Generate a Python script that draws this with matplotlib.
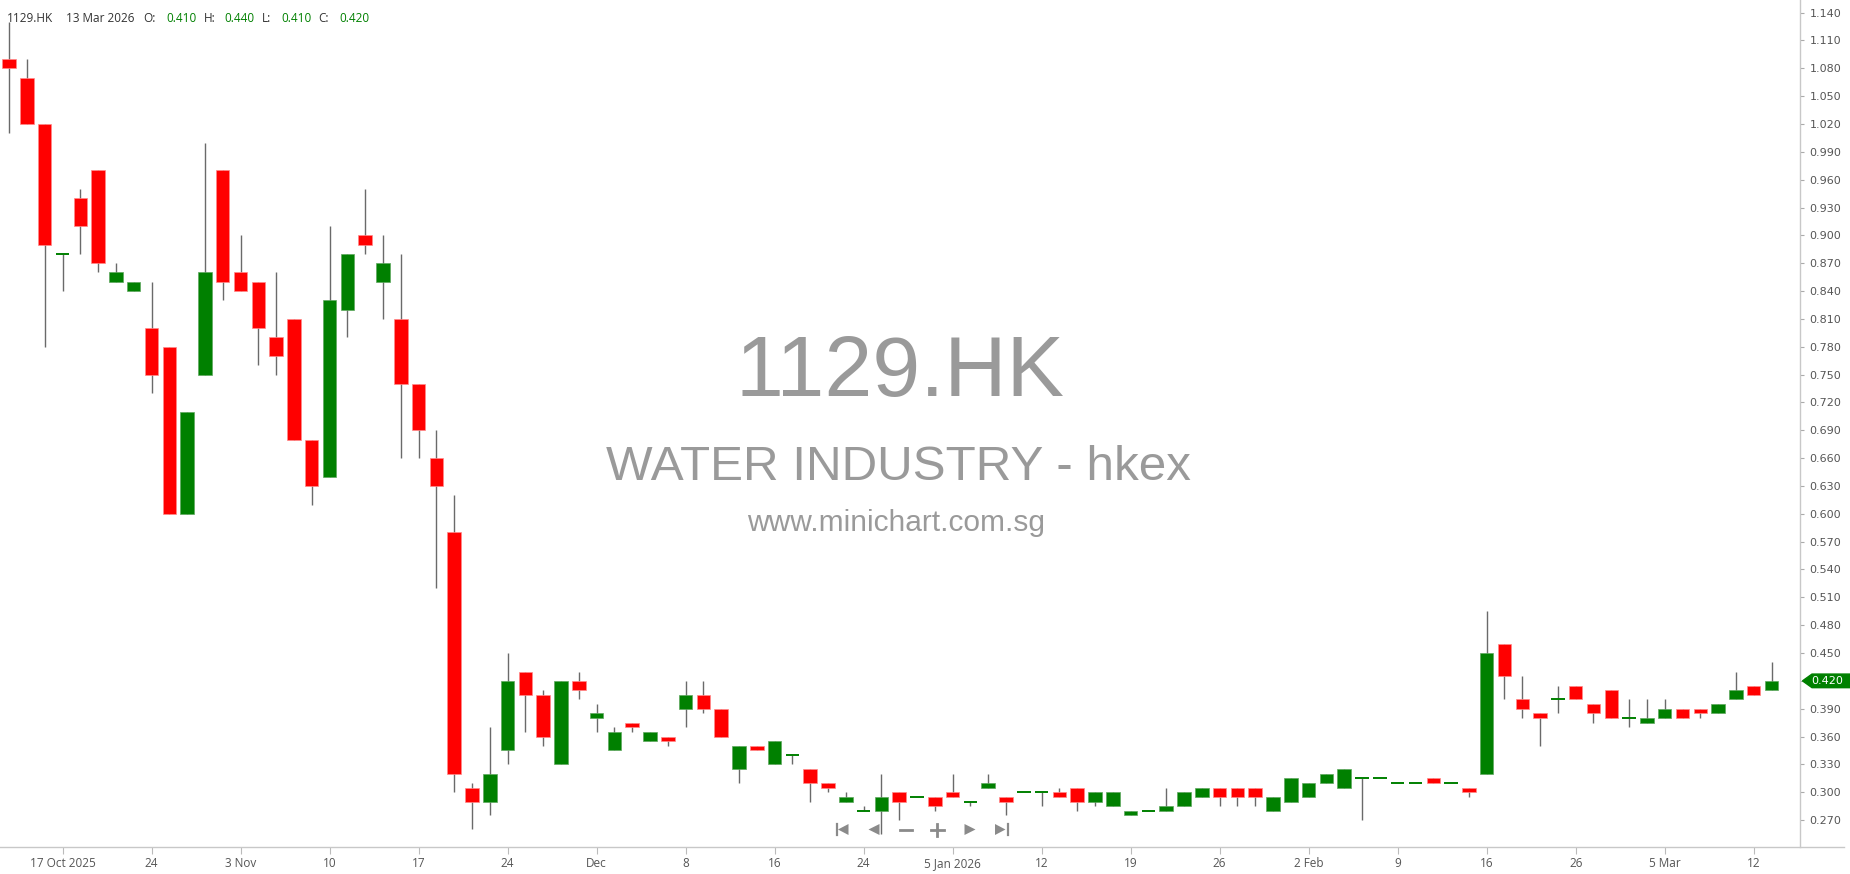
import matplotlib
matplotlib.use('Agg')
import matplotlib.pyplot as plt
from matplotlib.patches import Polygon
from matplotlib.lines import Line2D
from matplotlib.transforms import blended_transform_factory
import numpy as np

# ---------------- data ----------------
opens = [1.09, 1.07, 1.02, 0.88, 0.94, 0.97, 0.85, 0.84, 0.80, 0.78,
         0.60, 0.75, 0.97, 0.86, 0.85, 0.79, 0.81, 0.68, 0.64, 0.82,
         0.90, 0.85, 0.81, 0.74, 0.66, 0.58, 0.305, 0.29, 0.345, 0.43,
         0.405, 0.33, 0.42, 0.38, 0.345, 0.375, 0.355, 0.36, 0.39, 0.405,
         0.39, 0.325, 0.35, 0.33, 0.34, 0.325, 0.31, 0.29, 0.28, 0.28,
         0.30, 0.295, 0.295, 0.30, 0.29, 0.305, 0.295, 0.30, 0.30, 0.30,
         0.305, 0.29, 0.285, 0.275, 0.28, 0.28, 0.285, 0.295, 0.305, 0.305,
         0.305, 0.28, 0.29, 0.295, 0.31, 0.305, 0.315, 0.315, 0.31, 0.31,
         0.315, 0.31, 0.305, 0.32, 0.46, 0.40, 0.385, 0.40, 0.415, 0.395,
         0.41, 0.38, 0.375, 0.38, 0.39, 0.39, 0.385, 0.40, 0.415, 0.41]
highs = [1.13, 1.09, 1.02, 0.88, 0.95, 0.97, 0.87, 0.85, 0.85, 0.78,
         0.71, 1.00, 0.97, 0.90, 0.85, 0.86, 0.81, 0.68, 0.91, 0.88,
         0.95, 0.90, 0.88, 0.74, 0.69, 0.62, 0.31, 0.37, 0.45, 0.43,
         0.41, 0.42, 0.43, 0.395, 0.37, 0.375, 0.365, 0.36, 0.42, 0.42,
         0.39, 0.35, 0.35, 0.355, 0.34, 0.325, 0.31, 0.30, 0.285, 0.32,
         0.30, 0.295, 0.295, 0.32, 0.29, 0.32, 0.295, 0.30, 0.30, 0.305,
         0.305, 0.30, 0.30, 0.28, 0.28, 0.305, 0.30, 0.305, 0.305, 0.305,
         0.305, 0.295, 0.315, 0.31, 0.32, 0.325, 0.315, 0.315, 0.31, 0.31,
         0.315, 0.31, 0.305, 0.495, 0.46, 0.425, 0.385, 0.415, 0.415, 0.395,
         0.41, 0.40, 0.40, 0.40, 0.39, 0.39, 0.395, 0.43, 0.415, 0.44]
lows = [1.01, 1.02, 0.78, 0.84, 0.88, 0.86, 0.85, 0.84, 0.73, 0.60,
        0.60, 0.75, 0.83, 0.84, 0.76, 0.75, 0.68, 0.61, 0.64, 0.79,
        0.88, 0.81, 0.66, 0.66, 0.52, 0.30, 0.26, 0.275, 0.33, 0.365,
        0.35, 0.33, 0.40, 0.365, 0.345, 0.365, 0.355, 0.35, 0.37, 0.385,
        0.36, 0.31, 0.345, 0.33, 0.33, 0.29, 0.30, 0.29, 0.28, 0.255,
        0.27, 0.295, 0.28, 0.295, 0.285, 0.305, 0.275, 0.30, 0.285, 0.295,
        0.28, 0.285, 0.285, 0.275, 0.28, 0.28, 0.285, 0.295, 0.285, 0.285,
        0.285, 0.28, 0.29, 0.295, 0.31, 0.305, 0.27, 0.315, 0.31, 0.31,
        0.31, 0.31, 0.295, 0.32, 0.40, 0.38, 0.35, 0.385, 0.40, 0.375,
        0.38, 0.37, 0.375, 0.38, 0.38, 0.38, 0.385, 0.40, 0.405, 0.41]
closes = [1.08, 1.02, 0.89, 0.88, 0.91, 0.87, 0.86, 0.85, 0.75, 0.60,
          0.71, 0.86, 0.85, 0.84, 0.80, 0.77, 0.68, 0.63, 0.83, 0.88,
          0.89, 0.87, 0.74, 0.69, 0.63, 0.32, 0.29, 0.32, 0.42, 0.405,
          0.36, 0.42, 0.41, 0.385, 0.365, 0.37, 0.365, 0.355, 0.405, 0.39,
          0.36, 0.35, 0.345, 0.355, 0.34, 0.31, 0.305, 0.295, 0.28, 0.295,
          0.29, 0.295, 0.285, 0.295, 0.29, 0.31, 0.29, 0.30, 0.30, 0.295,
          0.29, 0.30, 0.30, 0.28, 0.28, 0.285, 0.30, 0.305, 0.295, 0.295,
          0.295, 0.295, 0.315, 0.31, 0.32, 0.325, 0.315, 0.315, 0.31, 0.31,
          0.31, 0.31, 0.30, 0.45, 0.425, 0.39, 0.38, 0.40, 0.40, 0.385,
          0.38, 0.38, 0.38, 0.39, 0.38, 0.385, 0.395, 0.41, 0.405, 0.42]

tick_pos = [3, 8, 13, 18, 23, 28, 33, 38, 43, 48, 53, 58, 63, 68, 73, 78, 83, 88, 93, 98]
tick_labels = ["17 Oct 2025", "24", "3 Nov", "10", "17", "24", "Dec", "8", "16", "24",
               "5 Jan 2026", "12", "19", "26", "2 Feb", "9", "16", "26", "5 Mar", "12"]
y_ticks = [0.27, 0.30, 0.33, 0.36, 0.39, 0.42, 0.45, 0.48, 0.51, 0.54,
           0.57, 0.60, 0.63, 0.66, 0.69, 0.72, 0.75, 0.78, 0.81, 0.84,
           0.87, 0.90, 0.93, 0.96, 0.99, 1.02, 1.05, 1.08, 1.11, 1.14]

symbol = "1129.HK"
last_date = "13 Mar 2026"
name_line = "WATER INDUSTRY - hkex"
site = "www.minichart.com.sg"

# ---------------- figure ----------------
W, H = 1850, 874
fig = plt.figure(figsize=(W / 100, H / 100), dpi=100)
fig.patch.set_facecolor('white')

def fx(px):
    return px / W

def fy(py):
    return 1 - py / H

ax = fig.add_axes([0, fy(847), fx(1800), 847 / H])
ax.set_facecolor('white')
ax.set_xlim(-0.511, 100.6)
ax.set_ylim(0.241, 1.1536)

UP = '#008000'
DOWN = '#ff0000'
WICK = '#6a6a6a'
bw = 0.76

x = np.arange(len(opens))
o = np.array(opens); h = np.array(highs); l = np.array(lows); c = np.array(closes)

# wicks
ax.vlines(x, l, h, color=WICK, linewidth=1.0, zorder=2)

# bodies
up = c > o
down = c < o
flat = c == o
ax.bar(x[up], (c - o)[up], bottom=o[up], width=bw, color=UP,
       edgecolor='#5fa85f', linewidth=0.5, zorder=3)
ax.bar(x[down], (o - c)[down], bottom=c[down], width=bw, color=DOWN,
       edgecolor='#ff8a8a', linewidth=0.5, zorder=3)
ax.hlines(c[flat], x[flat] - bw / 2, x[flat] + bw / 2, color=UP, linewidth=1.4, zorder=3)

# axes styling
for s in ['top', 'left', 'bottom']:
    ax.spines[s].set_visible(False)
ax.spines['right'].set_color('#c8c8c8')
ax.spines['right'].set_linewidth(1.0)

ax.yaxis.tick_right()
ax.set_yticks(y_ticks)
ax.set_yticklabels([f"{v:.3f}" for v in y_ticks], fontsize=8.0, color='#555555',
                   family='DejaVu Sans')
ax.tick_params(axis='y', length=3, width=0.8, color='#aaaaaa', pad=4)

ax.set_xticks(tick_pos)
ax.set_xticklabels(tick_labels, fontsize=8.5, color='#555555', family='Open Sans')
ax.tick_params(axis='x', length=5, width=0.8, color='#bbbbbb', pad=2)

# bottom axis line extending under the price scale
fig.add_artist(Line2D([0, fx(1844)], [fy(847), fy(847)], color='#c8c8c8',
                      linewidth=1.0, transform=fig.transFigure))

# watermark
wm = '#9a9a9a'
fig.text(fx(900), fy(396), symbol, fontsize=62, color=wm, family='Liberation Sans',
         ha='center', va='baseline', zorder=1)
fig.text(fx(899), fy(480), name_line, fontsize=35.6, color=wm, family='Liberation Sans',
         ha='center', va='baseline', zorder=1)
fig.text(fx(896), fy(531), site, fontsize=21.5, color=wm, family='Liberation Sans',
         ha='center', va='baseline', zorder=1)

# header
hy = fy(18.5)
hdr_dark = '#333333'
hdr = [(7, symbol, hdr_dark), (66, last_date, hdr_dark),
       (143.5, "O:", hdr_dark), (166, f"{opens[-1]:.3f}", UP),
       (203.6, "H:", hdr_dark), (224.6, f"{highs[-1]:.3f}", UP),
       (262.2, "L:", hdr_dark), (281.1, f"{lows[-1]:.3f}", UP),
       (318.7, "C:", hdr_dark), (338.9, f"{closes[-1]:.3f}", UP)]
for px, t, col in hdr:
    fig.text(fx(px), hy, t, fontsize=8.5, color=col, family='Open Sans',
             ha='left', va='center')

# current price tag on the price scale
bt = blended_transform_factory(ax.transAxes, ax.transData)
last = closes[-1]
dh = 6.8 / 928
xa = 1802.5 / 1800
xb = 1850 / 1800
xc = 1812 / 1800
tag = Polygon([[xa, last], [xc, last + dh], [xb, last + dh], [xb, last - dh], [xc, last - dh]],
              closed=True, facecolor=UP, edgecolor=UP, transform=bt, clip_on=False, zorder=5)
ax.add_patch(tag)
ax.text(1811 / 1800, last, f"{last:.3f}", transform=bt, fontsize=8.0, color='white',
        family='DejaVu Sans', ha='left', va='center', clip_on=False, zorder=6)

# navigation icons
ic = '#8a8a8a'
cy = 829.5
hh = 5.5
def tri_left(x0, x1):
    return Polygon([[fx(x0), fy(cy)], [fx(x1), fy(cy - hh)], [fx(x1), fy(cy + hh)]],
                   closed=True, facecolor=ic, edgecolor='none', transform=fig.transFigure, zorder=10)
def tri_right(x0, x1):
    return Polygon([[fx(x1), fy(cy)], [fx(x0), fy(cy - hh)], [fx(x0), fy(cy + hh)]],
                   closed=True, facecolor=ic, edgecolor='none', transform=fig.transFigure, zorder=10)
def line(x0, y0, x1, y1, lw):
    fig.add_artist(Line2D([fx(x0), fx(x1)], [fy(y0), fy(y1)], color=ic, linewidth=lw,
                          transform=fig.transFigure, zorder=10))

line(836.5, cy - hh, 836.5, cy + hh, 1.6)
fig.add_artist(tri_left(838, 848.5))
fig.add_artist(tri_left(868.5, 879.5))
line(899.5, cy, 912, cy, 2.0)
line(931, cy, 943.5, cy, 2.0)
line(937.25, cy - 6, 937.25, cy + 6, 2.0)
fig.add_artist(tri_right(964.5, 975.5))
fig.add_artist(tri_right(995, 1005.5))
line(1007.5, cy - hh, 1007.5, cy + hh, 1.6)

fig.savefig('out.png', dpi=100, facecolor='white')
